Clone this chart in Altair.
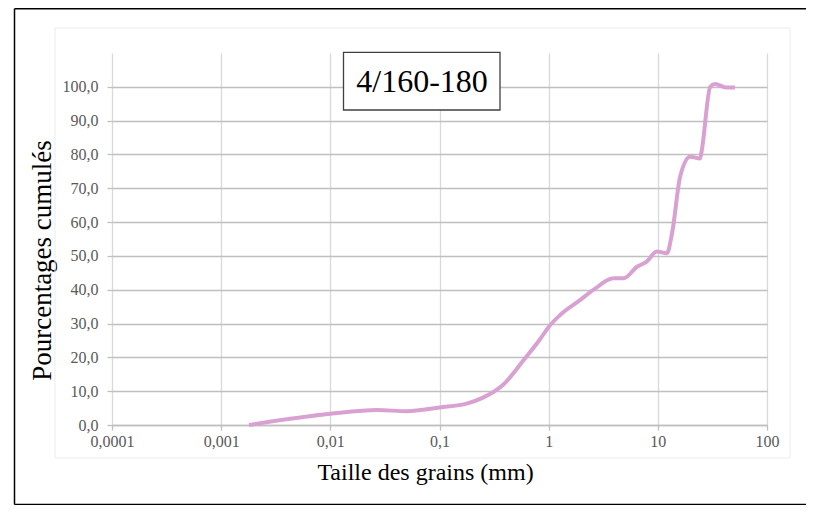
import altair as alt
import pandas as pd

# Data
grain_size_mm = [0.0018, 0.01, 0.027, 0.05, 0.1, 0.18, 0.25, 0.385, 0.6, 0.84, 1.0,
                 1.28, 1.95, 2.58, 3.93, 4.86, 6.45, 7.9, 9.8, 12.1, 13.5, 16,
                 19.8, 24.4, 25.3, 30.2, 33.5, 42.8, 51]
cumulative_pct = [0, 3.3, 4.4, 4.1, 5.2, 6.4, 8.1, 12, 19.5, 25.5, 29.0,
                  32.6, 37, 40, 43.4, 43.4, 46.8, 48.3, 51.3, 50.8, 56.7, 73.4,
                  79.3, 78.8, 81.3, 100, 100.8, 99.8, 99.8]
x_ticks = [0.0001, 0.001, 0.01, 0.1, 1, 10, 100]
y_ticks = [0, 10, 20, 30, 40, 50, 60, 70, 80, 90, 100]
title_text = "4/160-180"
x_title = "Taille des grains (mm)"
y_title = "Pourcentages cumulés"

df = pd.DataFrame({"size": grain_size_mm, "pct": cumulative_pct})

FONT = "Liberation Serif"
W, H = 655, 372

line = alt.Chart(df).mark_line(
    interpolate="monotone", color="#d9a1d2", strokeWidth=4
).encode(
    x=alt.X("size:Q",
            scale=alt.Scale(type="log", domain=[0.0001, 100], nice=False),
            axis=alt.Axis(values=x_ticks, title=x_title,
                          labelExpr="replace(format(datum.value, '~g'), '.', ',')",
                          labelFlush=False, labelOverlap=False,
                          grid=True, gridColor="#d9d9d9", gridWidth=1.3,
                          domain=True, domainColor="#bfbfbf", domainWidth=1.5,
                          ticks=True, tickColor="#bfbfbf", tickSize=5, tickWidth=1.3,
                          labelFont=FONT, labelFontSize=16, labelColor="#595959",
                          labelPadding=3,
                          titleFont=FONT, titleFontSize=24, titleFontWeight="normal",
                          titleColor="#000000", titleAlign="center",
                          titleBaseline="middle", titleX=313, titleY=47)),
    y=alt.Y("pct:Q",
            scale=alt.Scale(domain=[0, 110], nice=False),
            axis=alt.Axis(values=y_ticks, title=y_title,
                          labelExpr="replace(format(datum.value, '.1f'), '.', ',')",
                          grid=True, gridColor="#bfbfbf", gridWidth=1.3,
                          domain=False,
                          ticks=True, tickColor="#bfbfbf", tickSize=5, tickWidth=1.3,
                          labelFont=FONT, labelFontSize=16, labelColor="#595959",
                          labelPadding=9,
                          titleFont=FONT, titleFontSize=27, titleFontWeight="normal",
                          titleColor="#000000", titleAlign="center",
                          titleBaseline="middle", titleAngle=270,
                          titleX=-70, titleY=207)),
)

one = alt.Data(values=[{"k": 1}])

chart_area = alt.Chart(one).mark_rect(
    fillOpacity=0, stroke="#ececec", strokeWidth=1
).encode(x=alt.value(-57), x2=alt.value(678), y=alt.value(-25), y2=alt.value(405))

border_left = alt.Chart(one).mark_rule(color="#000000", strokeWidth=1.5).encode(
    x=alt.value(-97.5), y=alt.value(-44.3), y2=alt.value(451.5))
border_top = alt.Chart(one).mark_rule(color="#000000", strokeWidth=1.5).encode(
    x=alt.value(-97.5), x2=alt.value(694), y=alt.value(-44.3))
border_bottom = alt.Chart(one).mark_rule(color="#000000", strokeWidth=1.5).encode(
    x=alt.value(-97.5), x2=alt.value(694), y=alt.value(451.5))

title_box = alt.Chart(one).mark_rect(
    fill="#ffffff", stroke="#404040", strokeWidth=1.3
).encode(x=alt.value(231.5), x2=alt.value(388), y=alt.value(-0.7), y2=alt.value(57))

title_label = alt.Chart(one).mark_text(
    text=title_text, font=FONT, fontSize=32, color="#000000",
    align="center", baseline="middle"
).encode(x=alt.value(310), y=alt.value(29))

chart = alt.layer(chart_area, line, title_box, title_label,
                  border_left, border_top, border_bottom).properties(
    width=W, height=H,
    autosize=alt.AutoSizeParams(type="none"),
    padding={"left": 104, "top": 45, "right": 42, "bottom": 80},
).configure_view(stroke=None)

chart.save("out.html", embed_options={"renderer": "svg", "actions": False})
